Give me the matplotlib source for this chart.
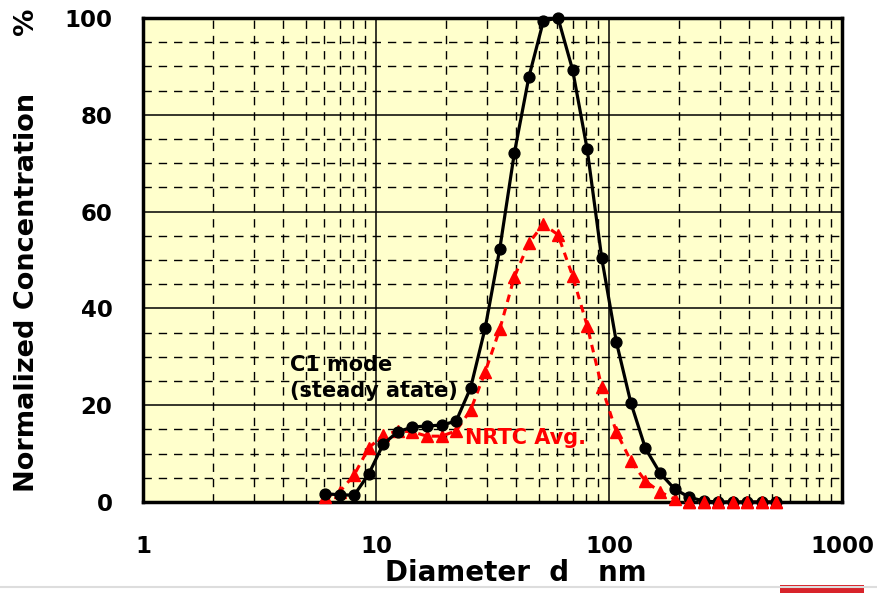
import matplotlib.pyplot as plt
from matplotlib.patches import Rectangle
from matplotlib.ticker import FixedLocator, NullFormatter

# particle diameter, nm (16 channels per decade)
diameters = [6.04, 6.98, 8.06, 9.31, 10.75, 12.41, 14.33, 16.55, 19.11, 22.07,
             25.48, 29.43, 33.98, 39.24, 45.30, 52.30, 60.43, 69.78, 80.58, 93.06,
             107.5, 124.1, 143.3, 165.5, 191.1, 220.7, 254.8, 294.3, 339.8, 392.4,
             453.2, 523.3]

c1_mode = [1.7, 1.5, 1.4, 5.8, 12.0, 14.5, 15.5, 15.7, 15.9, 16.7,
           23.6, 36.0, 52.3, 72.1, 87.8, 99.4, 100.0, 89.3, 72.9, 50.4,
           33.1, 20.5, 11.1, 6.0, 2.7, 1.0, 0.2, 0.0, 0.0, 0.0,
           0.0, 0.0]

nrtc_avg = [1.0, 2.1, 5.6, 11.2, 13.8, 14.7, 14.5, 13.6, 13.6, 14.7,
            19.0, 26.9, 35.7, 46.5, 53.5, 57.4, 55.2, 46.7, 36.4, 23.8,
            14.5, 8.5, 4.3, 2.1, 0.6, 0.0, 0.0, 0.0, 0.0, 0.0,
            0.0, 0.0]

x_ticks = [1, 10, 100, 1000]
y_ticks = [0, 20, 40, 60, 80, 100]

plt.rcParams['font.family'] = ['DejaVu Sans']
plt.rcParams['font.weight'] = 'bold'

fig = plt.figure(figsize=(8.77, 5.93), dpi=100)
ax = fig.add_axes([143 / 877, 1 - 502 / 593, 699 / 877, 484 / 593])
ax.set_facecolor('#ffffcc')

ax.plot(diameters, nrtc_avg, color='red', lw=2.2, ls=(0, (2.5, 2.0)),
        marker='^', ms=8, mec='red', mfc='red', zorder=3, clip_on=False)
ax.plot(diameters, c1_mode, color='black', lw=2.3, marker='o', ms=7.8,
        mfc='black', mec='black', zorder=4, clip_on=False)
# red triangles sit on top of the black dots where both are zero
ax.plot(diameters[-7:], nrtc_avg[-7:], ls='none', marker='^', ms=8,
        color='red', zorder=5, clip_on=False)

ax.set_xscale('log')
ax.set_xlim(1, 1000)
ax.set_ylim(0, 100)

ax.xaxis.set_major_locator(FixedLocator(x_ticks))
ax.set_xticklabels([str(v) for v in x_ticks])
minor_x = [m * 10 ** k for k in range(3) for m in range(2, 10)]
ax.xaxis.set_minor_locator(FixedLocator(minor_x))
ax.xaxis.set_minor_formatter(NullFormatter())
ax.yaxis.set_major_locator(FixedLocator(y_ticks))
ax.yaxis.set_minor_locator(FixedLocator([v for v in range(5, 100, 5) if v % 20]))

ax.grid(which='major', color='black', lw=1.1, ls='-')
ax.grid(which='minor', color='black', lw=1.0, ls=(0, (6, 5)))
ax.set_axisbelow(True)

ax.tick_params(which='both', length=0, labelsize=16.5)
ax.tick_params(axis='x', pad=24)
ax.tick_params(axis='y', pad=22)
for lab in ax.get_xticklabels() + ax.get_yticklabels():
    lab.set_fontweight('bold')

for s in ax.spines.values():
    s.set_linewidth(2.5)

ax.set_ylabel('Normalized Concentration      %', fontsize=19.5, fontweight='bold')
ax.yaxis.set_label_coords(-0.148, 0.519)
ax.set_xlabel('Diameter  d   nm', fontsize=20, fontweight='bold')
ax.xaxis.set_label_coords(0.534, -0.118)

ax.text(4.27, 25.6, 'C1 mode\n(steady atate)', fontsize=15,
        fontweight='bold', color='black', ha='left', va='center', linespacing=1.4)
ax.text(24.1, 13.2, 'NRTC Avg.', fontsize=15, fontweight='bold', color='red',
        ha='left', va='center')

# strip at the bottom edge of the source image
fig.add_artist(plt.Line2D([0, 1], [1 - 587 / 593] * 2, color='#dddddd', lw=1.5))
fig.add_artist(Rectangle((780 / 877, 0), 84 / 877, 8 / 593, color='#d8232a', lw=0))

fig.savefig('out.png', dpi=100)
